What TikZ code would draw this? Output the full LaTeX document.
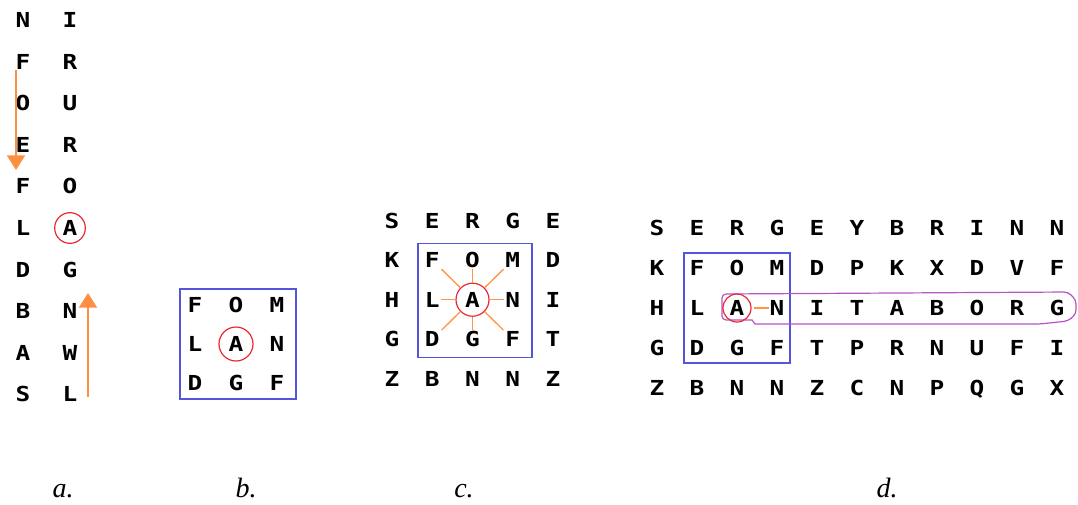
\documentclass[tikz,border=0pt]{standalone}
\usepackage{fontspec}
\setmainfont{Liberation Serif}
\newfontfamily\gridfont{DejaVu Sans Mono}[FakeStretch=1.18]
\usetikzlibrary{arrows.meta,calc}
\definecolor{boxblue}{RGB}{85,85,220}
\definecolor{ringred}{RGB}{232,40,50}
\definecolor{rayorange}{RGB}{255,150,70}
\definecolor{loopviolet}{RGB}{180,85,195}

\begin{document}
\begin{tikzpicture}[x=0.75pt,y=-0.75pt,
  letter/.style={font=\gridfont\bfseries\fontsize{15.5}{15.5}\selectfont,
    inner sep=0pt, text height=11.3pt, text depth=0pt, anchor=center},
  ring/.style={draw=ringred, line width=0.9pt, circle, inner sep=0pt},
  frame/.style={draw=boxblue, line width=1pt},
  ray/.style={draw=rayorange, line width=1pt},
  flow/.style={draw=rayorange!95!red, line width=1.4pt,
    -{Triangle[width=13.5pt,length=11pt]}},
  loop/.style={draw=loopviolet, line width=0.9pt},
  caption/.style={font=\itshape\fontsize{21}{21}\selectfont, anchor=base}]

\useasboundingbox (0,0) rectangle (1078,504);

% ---- a. two columns of letters, read along the arrows
\foreach \ch [count=\i from 0] in {N,F,O,E,F,L,D,B,A,S}
  \node[letter] (a1-\i) at (23, 20+41.6*\i) {\ch};
\foreach \ch [count=\i from 0] in {I,R,U,R,O,A,G,N,W,L}
  \node[letter] (a2-\i) at (70, 20+41.6*\i) {\ch};
\node[ring, minimum size=23pt] (aring) at (a2-5.center) {};
\coordinate (adown0) at (16,70);
\coordinate (adown1) at (16,170);
\coordinate (aup0) at (88,397);
\coordinate (aup1) at (88,293);
\draw[flow] (adown0) -- (adown1);
\draw[flow] (aup0) -- (aup1);

% ---- b. 3x3 neighbourhood
\foreach \row [count=\r] in {{F,O,M},{L,A,N},{D,G,F}}
  \foreach \ch [count=\c] in \row
    \node[letter] (b\r\c) at (195+41*\c-41, 305+39*\r-39) {\ch};
\draw[frame] ($(b22)+(-56,-55)$) rectangle ($(b22)+(60,55)$);
\node[ring, minimum size=25.5pt] (bring) at (b22.center) {};

% ---- c. 5x5 grid with the eight directions
\foreach \row [count=\r] in {{S,E,R,G,E},{K,F,O,M,D},{H,L,A,N,I},{G,D,G,F,T},{Z,B,N,N,Z}}
  \foreach \ch [count=\c] in \row
    \node[letter] (c\r\c) at (392+40.25*\c-40.25, 220.5+39.6*\r-39.6) {\ch};
\draw[frame] ($(c33)+(-54.5,-56)$) rectangle ($(c33)+(59.5,58)$);
\node[ring, minimum size=24.75pt] (cring) at (c33.center) {};
\foreach \t in {c23,c32,c34,c43}
  \draw[ray, shorten <=12.75pt, shorten >=6.75pt] (c33.center) -- (\t.center);
\foreach \t in {c22,c24,c42,c44}
  \draw[ray, shorten <=12.75pt, shorten >=9.75pt] (c33.center) -- (\t.center);

% ---- d. 5x11 grid with one direction followed
\foreach \row [count=\r] in {{S,E,R,G,E,Y,B,R,I,N,N},{K,F,O,M,D,P,K,X,D,V,F},
    {H,L,A,N,I,T,A,B,O,R,G},{G,D,G,F,T,P,R,N,U,F,I},{Z,B,N,N,Z,C,N,P,Q,G,X}}
  \foreach \ch [count=\c] in \row
    \node[letter] (d\r\c) at (657+40*\c-40, 228+40*\r-40) {\ch};
\draw[frame] ($(d33)+(-53,-55)$) rectangle ($(d33)+(53,55)$);
\draw[loop] (752,320) [rounded corners=3pt] -- (722,320) -- (722,294)
  -- (1068,292) -- (1076,300) -- (1076,314) -- (1068,321) -- (1040,324)
  [sharp corners] -- (755,324) -- cycle;
\node[ring, minimum size=21pt] (dring) at (d33.center) {};
\draw[ray, shorten <=12.75pt, shorten >=6pt] (d33.center) -- (d34.center);

% ---- captions
\node[caption] (capa) at (63,497) {a.};
\node[caption] (capb) at (246,497) {b.};
\node[caption] (capc) at (464,497) {c.};
\node[caption] (capd) at (887,497) {d.};
\end{tikzpicture}
\end{document}
